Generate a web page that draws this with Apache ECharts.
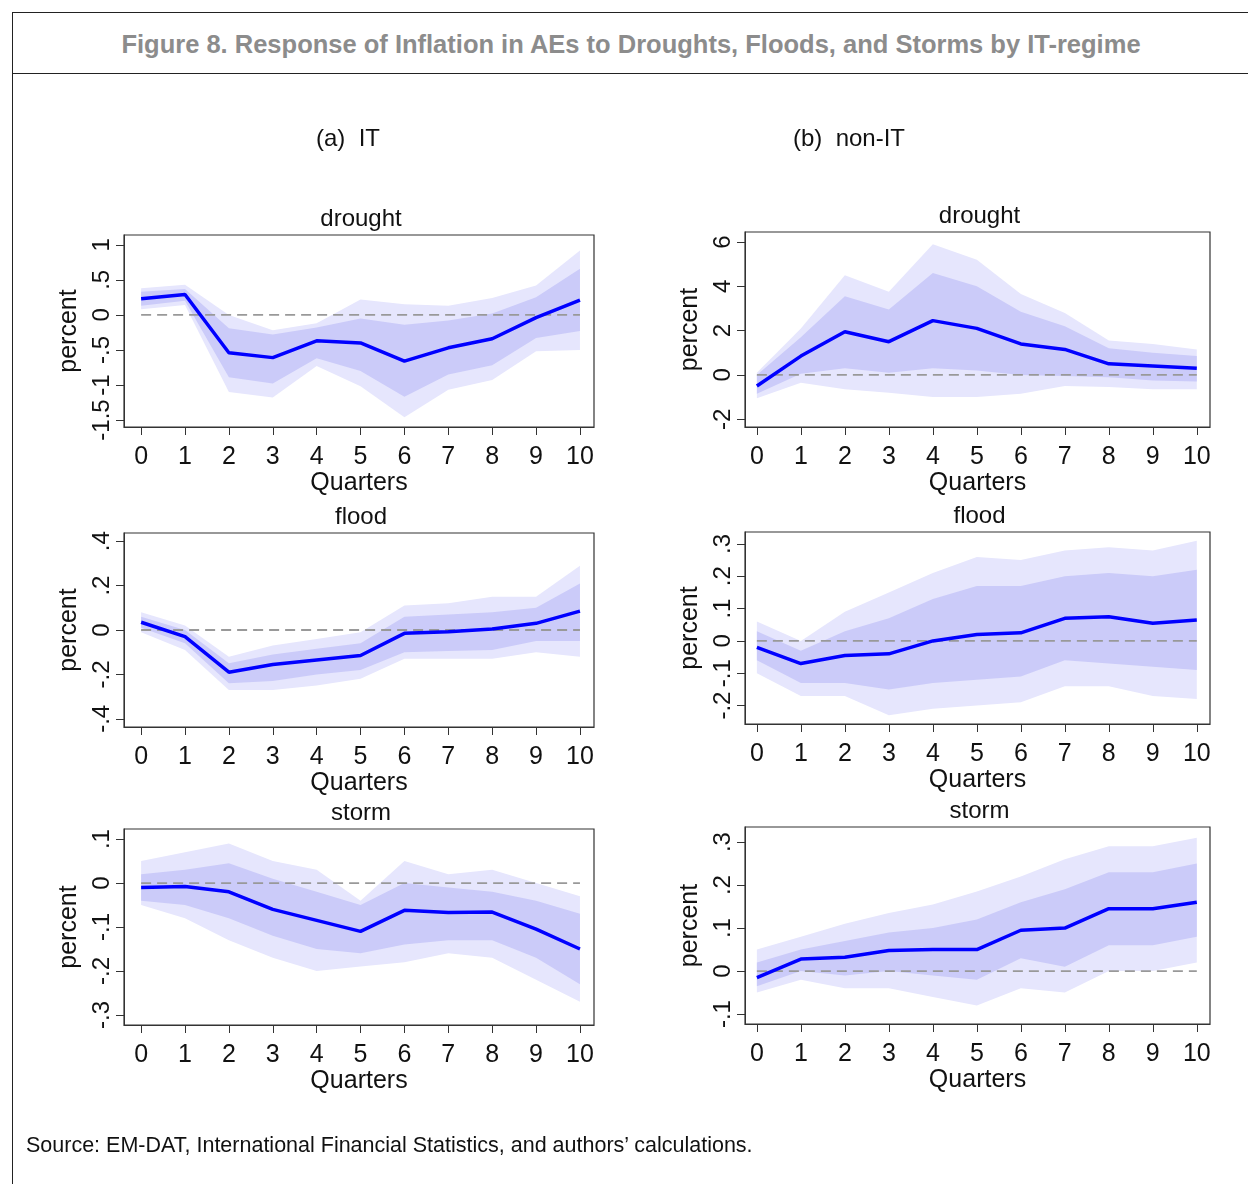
<!DOCTYPE html>
<html>
<head>
<meta charset="utf-8">
<script src="https://cdn.jsdelivr.net/npm/echarts@6/dist/echarts.min.js"></script>
<style>
  body { margin: 0; background: #fff; font-family: "Liberation Sans", Arial, sans-serif; }
  #frame { position: absolute; left: 12px; top: 12px; width: 1240px; height: 1180px; border-left: 1.5px solid #222; border-top: 1.5px solid #222; }
  #title { position: absolute; left: 0; top: 0; width: 1236px; height: 60px; border-bottom: 1.5px solid #222; text-align: center; line-height: 62px; font-size: 25.5px; font-weight: bold; color: #8c8c8c; }
  #main { position: absolute; left: 0; top: 0; width: 1248px; height: 1184px; }
  .sub { position: absolute; font-size: 24px; color: #111; top: 124px; }
  #source { position: absolute; left: 26px; top: 1133px; font-size: 21.5px; color: #111; }
</style>
</head>
<body>
<div id="frame"><div id="title">Figure 8. Response of Inflation in AEs to Droughts, Floods, and Storms by IT-regime</div></div>
<div id="main"></div>
<div class="sub" style="left:316px">(a)&nbsp;&nbsp;IT</div>
<div class="sub" style="left:793px">(b)&nbsp;&nbsp;non-IT</div>
<div id="source">Source: EM-DAT, International Financial Statistics, and authors’ calculations.</div>
<script>
var quarters = [0, 1, 2, 3, 4, 5, 6, 7, 8, 9, 10];

// IT drought
var itDroughtMean = [0.23, 0.29, -0.54, -0.61, -0.37, -0.40, -0.66, -0.47, -0.34, -0.04, 0.21];
var itDroughtInUp = [0.33, 0.37, -0.19, -0.28, -0.18, -0.05, -0.14, -0.08, 0.02, 0.25, 0.66];
var itDroughtInLo = [0.13, 0.20, -0.89, -0.98, -0.62, -0.80, -1.17, -0.85, -0.72, -0.33, -0.23];
var itDroughtOutUp = [0.38, 0.43, 0.0, -0.22, -0.12, 0.22, 0.15, 0.13, 0.24, 0.42, 0.92];
var itDroughtOutLo = [0.08, 0.14, -1.10, -1.18, -0.73, -1.02, -1.46, -1.07, -0.93, -0.52, -0.50];
// non-IT drought
var nitDroughtMean = [-0.5, 0.85, 1.95, 1.5, 2.45, 2.1, 1.4, 1.15, 0.5, 0.4, 0.3];
var nitDroughtInUp = [0.0, 1.7, 3.55, 2.95, 4.6, 4.0, 2.85, 2.2, 1.2, 1.0, 0.85];
var nitDroughtInLo = [-0.85, 0.05, 0.3, 0.1, 0.3, 0.2, 0.0, -0.05, -0.1, -0.25, -0.3];
var nitDroughtOutUp = [0.1, 2.1, 4.5, 3.75, 5.9, 5.2, 3.65, 2.8, 1.55, 1.4, 1.15];
var nitDroughtOutLo = [-1.05, -0.35, -0.65, -0.8, -1.0, -1.0, -0.85, -0.5, -0.55, -0.65, -0.65];
// IT flood
var itFloodMean = [0.035, -0.03, -0.19, -0.155, -0.135, -0.115, -0.015, -0.008, 0.005, 0.03, 0.085];
var itFloodInUp = [0.06, 0.0, -0.15, -0.11, -0.085, -0.06, 0.06, 0.07, 0.08, 0.1, 0.21];
var itFloodInLo = [0.01, -0.06, -0.24, -0.23, -0.2, -0.18, -0.1, -0.095, -0.09, -0.05, -0.05];
var itFloodOutUp = [0.08, 0.02, -0.12, -0.07, -0.04, -0.01, 0.11, 0.12, 0.15, 0.15, 0.29];
var itFloodOutLo = [-0.01, -0.09, -0.27, -0.27, -0.25, -0.22, -0.13, -0.13, -0.13, -0.1, -0.12];
// non-IT flood
var nitFloodMean = [-0.02, -0.07, -0.045, -0.04, 0.0, 0.02, 0.025, 0.07, 0.075, 0.055, 0.065];
var nitFloodInUp = [0.03, -0.03, 0.03, 0.07, 0.13, 0.17, 0.17, 0.2, 0.21, 0.2, 0.22];
var nitFloodInLo = [-0.06, -0.13, -0.13, -0.15, -0.13, -0.12, -0.11, -0.06, -0.07, -0.08, -0.09];
var nitFloodOutUp = [0.06, 0.0, 0.09, 0.15, 0.21, 0.26, 0.25, 0.28, 0.29, 0.28, 0.31];
var nitFloodOutLo = [-0.1, -0.17, -0.17, -0.23, -0.21, -0.2, -0.19, -0.14, -0.14, -0.17, -0.18];
// IT storm
var itStormMean = [-0.01, -0.008, -0.02, -0.06, -0.085, -0.11, -0.062, -0.067, -0.066, -0.105, -0.15];
var itStormInUp = [0.02, 0.03, 0.045, 0.01, -0.02, -0.05, 0.0, -0.01, -0.02, -0.04, -0.07];
var itStormInLo = [-0.04, -0.05, -0.08, -0.12, -0.15, -0.16, -0.14, -0.13, -0.13, -0.17, -0.23];
var itStormOutUp = [0.05, 0.07, 0.09, 0.05, 0.03, -0.04, 0.05, 0.02, 0.03, 0.0, -0.03];
var itStormOutLo = [-0.05, -0.08, -0.13, -0.17, -0.2, -0.19, -0.18, -0.16, -0.17, -0.22, -0.27];
// non-IT storm
var nitStormMean = [-0.015, 0.028, 0.032, 0.048, 0.05, 0.05, 0.095, 0.1, 0.145, 0.145, 0.16];
var nitStormInUp = [0.02, 0.05, 0.07, 0.09, 0.1, 0.12, 0.16, 0.19, 0.23, 0.23, 0.25];
var nitStormInLo = [-0.035, 0.0, -0.01, 0.0, -0.01, -0.02, 0.03, 0.01, 0.06, 0.06, 0.08];
var nitStormOutUp = [0.05, 0.08, 0.11, 0.135, 0.155, 0.185, 0.22, 0.26, 0.29, 0.29, 0.31];
var nitStormOutLo = [-0.05, -0.02, -0.04, -0.04, -0.06, -0.08, -0.04, -0.05, 0.0, 0.0, 0.02];

// tick labels
var ticksDroughtIT = [-1.5, -1, -0.5, 0, 0.5, 1];
var ticksDroughtNIT = [-2, 0, 2, 4, 6];
var ticksFloodIT = [-0.4, -0.2, 0, 0.2, 0.4];
var ticksFloodNIT = [-0.2, -0.1, 0, 0.1, 0.2, 0.3];
var ticksStormIT = [-0.3, -0.2, -0.1, 0, 0.1];
var ticksStormNIT = [-0.1, 0, 0.1, 0.2, 0.3];

var panels = [
  { name: 'drought', grid: [124, 235, 470, 192], x: [-0.39, 10.32], y: [-1.6, 1.14], ticks: ticksDroughtIT, d: [itDroughtMean, itDroughtInUp, itDroughtInLo, itDroughtOutUp, itDroughtOutLo] },
  { name: 'drought', grid: [745, 232, 465, 195], x: [-0.27, 10.3], y: [-2.35, 6.45], ticks: ticksDroughtNIT, d: [nitDroughtMean, nitDroughtInUp, nitDroughtInLo, nitDroughtOutUp, nitDroughtOutLo] },
  { name: 'flood', grid: [124, 533, 470, 194], x: [-0.39, 10.32], y: [-0.437, 0.437], ticks: ticksFloodIT, d: [itFloodMean, itFloodInUp, itFloodInLo, itFloodOutUp, itFloodOutLo] },
  { name: 'flood', grid: [745, 532, 465, 192], x: [-0.27, 10.3], y: [-0.257, 0.337], ticks: ticksFloodNIT, d: [nitFloodMean, nitFloodInUp, nitFloodInLo, nitFloodOutUp, nitFloodOutLo] },
  { name: 'storm', grid: [124, 829, 470, 196], x: [-0.39, 10.32], y: [-0.323, 0.123], ticks: ticksStormIT, d: [itStormMean, itStormInUp, itStormInLo, itStormOutUp, itStormOutLo] },
  { name: 'storm', grid: [745, 827, 465, 197], x: [-0.27, 10.3], y: [-0.123, 0.335], ticks: ticksStormNIT, d: [nitStormMean, nitStormInUp, nitStormInLo, nitStormOutUp, nitStormOutLo] }
];

var FONT = '"Liberation Sans", Arial, sans-serif';
function fmt(v) {
  var s = String(+v.toFixed(3));
  return s.replace(/^(-?)0\./, '$1.');
}

function band(idx, lo, hi, color) {
  return {
    type: 'custom', xAxisIndex: idx, yAxisIndex: idx, silent: true, z: 1,
    data: quarters.map(function (q, i) { return [q, lo[i], hi[i]]; }),
    encode: { x: 0, y: [1, 2] },
    renderItem: function (params, api) {
      if (params.dataIndex !== 0) return null;
      var pts = [];
      for (var i = 0; i < quarters.length; i++) pts.push(api.coord([quarters[i], hi[i]]));
      for (var j = quarters.length - 1; j >= 0; j--) pts.push(api.coord([quarters[j], lo[j]]));
      return { type: 'polygon', shape: { points: pts }, style: { fill: color } };
    }
  };
}

var option = { animation: false, title: [], grid: [], xAxis: [], yAxis: [], series: [] };

panels.forEach(function (p, k) {
  var g = p.grid;
  option.title.push({ text: p.name, left: g[0] + g[2] / 2 - 3, top: g[1] - 33, textAlign: 'center',
    textStyle: { fontFamily: FONT, fontSize: 24, fontWeight: 'normal', color: '#111' } });
  option.grid.push({ left: g[0], top: g[1], width: g[2], height: g[3], show: true,
    borderColor: '#333', borderWidth: 1.2, backgroundColor: '#fff' });
  option.xAxis.push({ type: 'value', gridIndex: k, min: p.x[0], max: p.x[1],
    name: 'Quarters', nameLocation: 'middle', nameGap: 42,
    nameTextStyle: { fontFamily: FONT, fontSize: 25, color: '#111' },
    axisLine: { show: true, onZero: false, lineStyle: { color: '#333' } },
    axisTick: { show: true, length: 8, customValues: quarters, lineStyle: { color: '#333' } },
    axisLabel: { customValues: quarters, fontFamily: FONT, fontSize: 25, color: '#111', margin: 18 },
    splitLine: { show: false } });
  option.yAxis.push({ type: 'value', gridIndex: k, min: p.y[0], max: p.y[1],
    name: 'percent', nameLocation: 'middle', nameGap: 42,
    nameTextStyle: { fontFamily: FONT, fontSize: 25, color: '#111' },
    axisLine: { show: true, onZero: false, lineStyle: { color: '#333' } },
    axisTick: { show: true, length: 8, customValues: p.ticks, lineStyle: { color: '#333' } },
    axisLabel: { customValues: p.ticks, rotate: 90, fontFamily: FONT, fontSize: 24, color: '#111', margin: 10, formatter: fmt },
    splitLine: { show: false } });

  var mean = p.d[0], inUp = p.d[1], inLo = p.d[2], outUp = p.d[3], outLo = p.d[4];
  option.series.push(band(k, outLo, outUp, '#e6e6fd'));
  option.series.push(band(k, inLo, inUp, '#cbcbf9'));
  option.series.push({ type: 'line', xAxisIndex: k, yAxisIndex: k, z: 2, silent: true, symbol: 'none',
    data: quarters.map(function (q) { return [q, 0]; }),
    lineStyle: { color: '#999', width: 1.8, type: [10, 6] } });
  option.series.push({ type: 'line', xAxisIndex: k, yAxisIndex: k, z: 3, silent: true, symbol: 'none',
    data: quarters.map(function (q, i) { return [q, mean[i]]; }),
    lineStyle: { color: '#0000ff', width: 3.5 } });
});

var myChart = echarts.init(document.getElementById('main'));
myChart.setOption(option);
</script>
</body>
</html>
